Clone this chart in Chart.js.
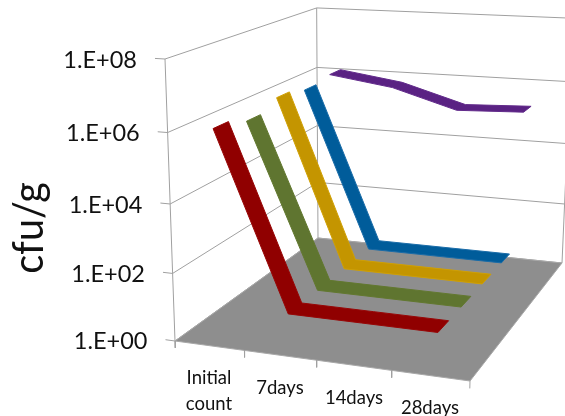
<!DOCTYPE html>
<html>
<head>
<meta charset="utf-8">
<title>cfu/g</title>
<script src="https://cdn.jsdelivr.net/npm/chart.js@4/dist/chart.umd.min.js"></script>
<style>
  html, body { margin: 0; padding: 0; background: #fff; }
  canvas { display: block; }
</style>
</head>
<body>
<canvas id="chart" width="565" height="416"></canvas>
<script>
// ── DATA ──────────────────────────────────────────────────────────────────────
const categories = [['Initial', 'count'], ['7days'], ['14days'], ['28days']];
const yTickValues = [1e0, 1e2, 1e4, 1e6, 1e8];
const yTickLabels = ['1.E+00', '1.E+02', '1.E+04', '1.E+06', '1.E+08'];
const yTitle = 'cfu/g';

// front to back along the depth axis
const seriesRed = [1.15e6, 10, 10, 10];
const seriesGreen = [6.8e5, 10, 10, 10];
const seriesGold = [1.3e6, 10, 10, 10];
const seriesBlue = [9e5, 10, 10, 10];
const seriesPurple = [1.2e6, 6e5, 1.5e5, 1.8e5];

// ── LOOK ──────────────────────────────────────────────────────────────────────
const RIBBONS = [
  { values: seriesRed, fill: '#900000', edge: '#980606' },
  { values: seriesGreen, fill: '#5f7530', edge: '#62782f' },
  { values: seriesGold, fill: '#c49500', edge: '#d0a004' },
  { values: seriesBlue, fill: '#005c9a', edge: '#1a6ca8' },
  { values: seriesPurple, fill: '#5a2283', edge: '#622b8b' }
];
const GRID = '#a0a0a0';
const FLOOR = '#8e8e8e';
const RIBBON_HALF_DEPTH = 0.045;
const LOG_MAX = 8;

// ── 3D BOX PROJECTION ─────────────────────────────────────────────────────────
// corners of the box as they sit in the picture
const O = [175, 341], U = [470, 381], V = [318, 238], UV = [562, 263], W = [165, 59];
const G3 = -0.055; // vertical foreshortening

const dx1 = U[0] - UV[0], dx2 = V[0] - UV[0], sx = O[0] - U[0] + UV[0] - V[0];
const dy1 = U[1] - UV[1], dy2 = V[1] - UV[1], sy = O[1] - U[1] + UV[1] - V[1];
const den = dx1 * dy2 - dx2 * dy1;
const G1 = (sx * dy2 - dx2 * sy) / den;
const G2 = (dx1 * sy - sx * dy1) / den;

function project(u, v, w) {
  const d = 1 + G1 * u + G2 * v + G3 * w;
  const axis = i => O[i]
    + (U[i] * (1 + G1) - O[i]) * u
    + (V[i] * (1 + G2) - O[i]) * v
    + (W[i] * (1 + G3) - O[i]) * w;
  return { x: axis(0) / d, y: axis(1) / d };
}

const logW = val => Math.log10(val) / LOG_MAX;
const catU = i => (i + 0.5) / categories.length;

// ── DATASETS ──────────────────────────────────────────────────────────────────
const datasets = [];

function addLine(points, color) {
  datasets.push({ data: points, borderColor: color, borderWidth: 1, pointRadius: 0, fill: false, order: 1000 - datasets.length });
}

function addShape(points, fillColor, edgeColor) {
  datasets.push({ data: points, borderColor: edgeColor, backgroundColor: fillColor, borderWidth: 1, pointRadius: 0, fill: 'shape', order: 1000 - datasets.length });
}

// walls
yTickValues.forEach(val => {
  const w = logW(val);
  addLine([project(-0.035, 0, w), project(0, 0, w), project(0, 1, w), project(1, 1, w)], GRID);
});
addLine([project(0, 0, 0), project(0, 0, 1)], GRID);
addLine([project(0, 1, 0), project(0, 1, 1)], GRID);
addLine([project(1, 1, 0), project(1, 1, 1)], GRID);

// floor
addShape([project(0, 0, 0), project(1, 0, 0), project(1, 1, 0), project(0, 1, 0), project(0, 0, 0)], FLOOR, '#a8a8a8');

// ticks under the front edge
for (let i = 0; i <= categories.length; i++) {
  const u = i / categories.length;
  addLine([project(u, 0, 0), project(u, 0, -0.026)], GRID);
}

// ribbons, back one first so the front ones sit over it
[...RIBBONS].reverse().forEach(r => {
  const c = (RIBBONS.indexOf(r) + 0.5) / RIBBONS.length;
  const front = r.values.map((val, i) => project(catU(i), c - RIBBON_HALF_DEPTH, logW(val)));
  const back = r.values.map((val, i) => project(catU(i), c + RIBBON_HALF_DEPTH, logW(val)));
  addShape([...front, ...back.reverse(), front[0]], r.fill, r.edge);
});

// ── TEXT ──────────────────────────────────────────────────────────────────────
const textLabels = {
  id: 'textLabels',
  afterDraw(chart) {
    const ctx = chart.ctx;
    ctx.save();
    ctx.fillStyle = '#111';

    ctx.font = '23.5px Lato';
    ctx.textAlign = 'right';
    ctx.textBaseline = 'middle';
    yTickLabels.forEach((label, i) => {
      const p = project(-0.035, 0, logW(yTickValues[i]));
      ctx.fillText(label, p.x - 18, p.y + 2);
    });

    ctx.font = '18.5px Lato';
    ctx.textAlign = 'center';
    const labelX = [209, 280, 354, 430];
    const labelY = [378, 388, 398, 408];
    categories.forEach((lines, i) => {
      lines.forEach((line, j) => ctx.fillText(line, labelX[i], labelY[i] + j * 26));
    });

    ctx.translate(43, 228);
    ctx.rotate(-Math.PI / 2);
    ctx.scale(0.92, 1);
    ctx.font = '43px Lato';
    ctx.textBaseline = 'alphabetic';
    ctx.fillText(yTitle, 0, 0);
    ctx.restore();
  }
};

// ── INIT ──────────────────────────────────────────────────────────────────────
new Chart(document.getElementById('chart'), {
  type: 'scatter',
  data: { datasets },
  plugins: [textLabels],
  options: {
    responsive: false,
    animation: false,
    events: [],
    layout: { padding: 0 },
    elements: { line: { tension: 0 } },
    datasets: { scatter: { showLine: true } },
    plugins: { legend: { display: false }, tooltip: { enabled: false } },
    scales: {
      x: { type: 'linear', min: 0, max: 565, display: false },
      y: { type: 'linear', min: 0, max: 416, reverse: true, display: false }
    }
  }
});
</script>
</body>
</html>
